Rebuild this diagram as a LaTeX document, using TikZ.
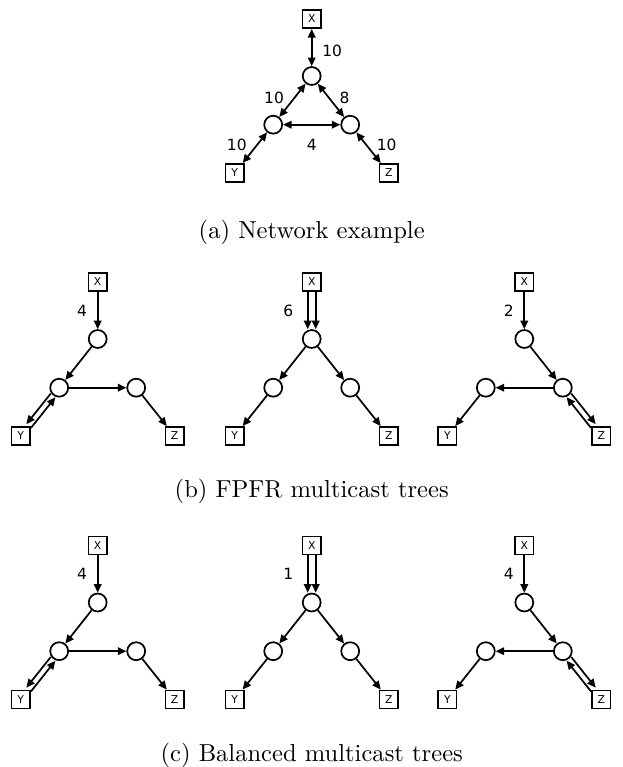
\documentclass[tikz,border=0pt]{standalone}
\usepackage{fontspec}
\newfontfamily\vera{DejaVu Sans}
\usetikzlibrary{arrows.meta}

\tikzset{
  router/.style={circle, draw, line width=0.7pt, minimum size=7.3pt, inner sep=0pt},
  host/.style={rectangle, draw, line width=0.7pt, minimum size=7.4pt, inner sep=0pt, font=\vera\fontsize{4.4}{5}\selectfont},
  wt/.style={font=\vera\fontsize{6.3}{7}\selectfont, inner sep=4pt},
  flow/.style={line width=0.7pt, -{Triangle[length=3.5pt,width=3.1pt]}},
  duplex/.style={line width=0.7pt, {Triangle[length=3.5pt,width=3.1pt]}-{Triangle[length=3.5pt,width=3.1pt]}},
}

\begin{document}
\begin{tikzpicture}[x=0.407pt,y=-0.407pt]
  \useasboundingbox (0,0) rectangle (622,767);

  % same layout for every network: source X, routers t/l/r, receivers Y and Z
  \foreach \i/\cx/\cy in {0/311.7/19, 1/97.7/282, 2/311.7/282, 3/524.3/282,
                          4/97.7/545.5, 5/311.7/545.5, 6/524.3/545.5}{
    \node[host] (x\i) at (\cx,\cy) {X};
    \node[router] (t\i) at (\cx,\cy+57) {};
    \node[router] (l\i) at (\cx-38.5,\cy+105.7) {};
    \node[router] (r\i) at (\cx+38.5,\cy+105.7) {};
    \node[host] (y\i) at (\cx-77,\cy+154) {Y};
    \node[host] (z\i) at (\cx+77,\cy+154) {Z};
  }

  % (a) the network with its capacities
  \draw[duplex] (x0) -- node[wt,right,pos=.6] {10} (t0);
  \draw[duplex] (t0) -- node[wt,left,pos=.42] {10} (l0);
  \draw[duplex] (t0) -- node[wt,right,pos=.42] {8} (r0);
  \draw[duplex] (l0) -- node[wt,below=1.5pt] {4} (r0);
  \draw[duplex] (l0) -- node[wt,left,pos=.4] {10} (y0);
  \draw[duplex] (r0) -- node[wt,right,pos=.4] {10} (z0);
  \node[anchor=base] (capa) at (311.7,238) {(a) Network example};

  % (b) and (c) the three trees of each row
  \foreach \p/\q/\s/\wp/\wq/\ws in {1/2/3/4/6/2, 4/5/6/4/1/4}{
    % tree through the left router
    \draw[flow] (x\p) -- node[wt,left] {\wp} (t\p);
    \draw[flow] (t\p) -- (l\p);
    \draw[flow] (l\p) -- (r\p);
    \draw[flow] (r\p) -- (z\p);
    \draw[flow,transform canvas={shift={(-2.3,-1.9)}}] (l\p) -- (y\p);
    \draw[flow,transform canvas={shift={(2.3,1.9)}}] (y\p) -- (l\p);
    % tree splitting at the top router
    \draw[flow,transform canvas={shift={(-4,0)}}] (x\q) -- node[wt,left,xshift=-1.5pt] {\wq} (t\q);
    \draw[flow,transform canvas={shift={(4,0)}}] (x\q) -- (t\q);
    \draw[flow] (t\q) -- (l\q);
    \draw[flow] (t\q) -- (r\q);
    \draw[flow] (l\q) -- (y\q);
    \draw[flow] (r\q) -- (z\q);
    % tree through the right router
    \draw[flow] (x\s) -- node[wt,left] {\ws} (t\s);
    \draw[flow] (t\s) -- (r\s);
    \draw[flow] (r\s) -- (l\s);
    \draw[flow] (l\s) -- (y\s);
    \draw[flow,transform canvas={shift={(2.3,-1.9)}}] (r\s) -- (z\s);
    \draw[flow,transform canvas={shift={(-2.3,1.9)}}] (z\s) -- (r\s);
  }
  \node[anchor=base] (capb) at (311.7,497) {(b) FPFR multicast trees};
  \node[anchor=base] (capc) at (311.7,761) {(c) Balanced multicast trees};
\end{tikzpicture}
\end{document}
